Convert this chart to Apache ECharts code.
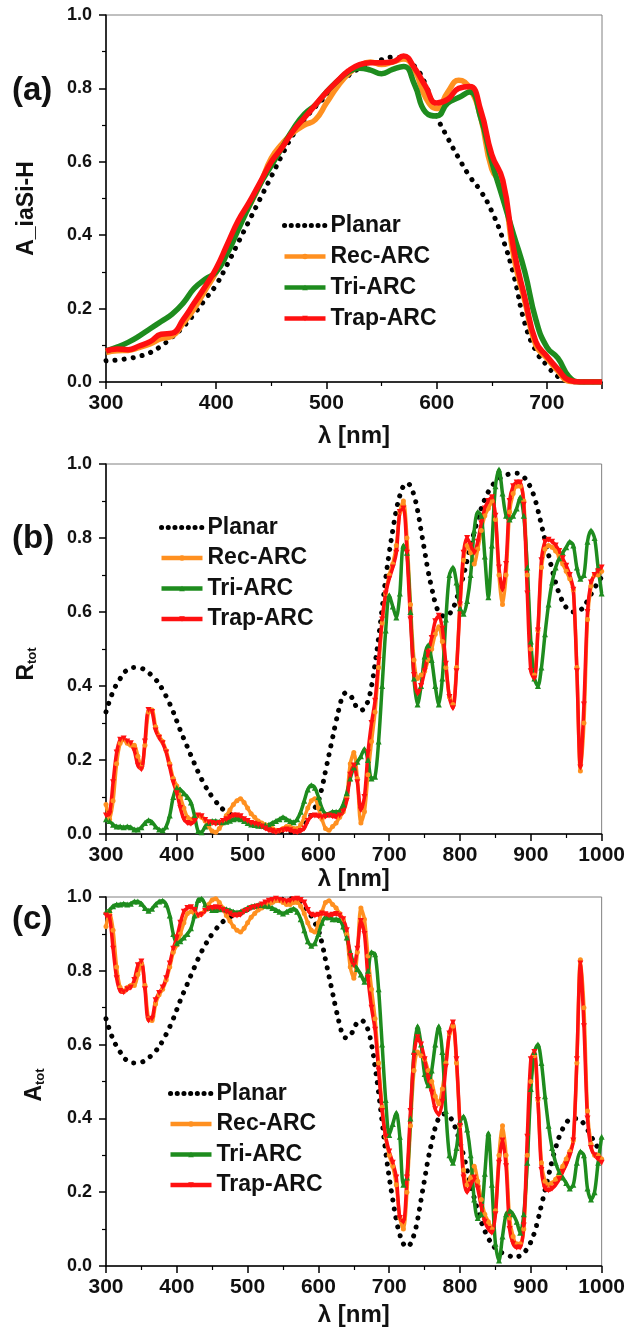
<!DOCTYPE html>
<html>
<head>
<meta charset="utf-8">
<script src="https://cdn.jsdelivr.net/npm/echarts@6/dist/echarts.min.js"></script>
<style>
html,body{margin:0;padding:0;background:#fff;}
#chart{width:628px;height:1329px;}
</style>
</head>
<body>
<div id="chart"></div>
<script>
// ---------- Panel (a): absorption in a-Si:H ----------
const wlA = [300,310,320,330,340,350,360,370,380,390,400,410,420,430,440,450,460,470,480,490,500,510,520,530,540,550,560,570,580,590,600,610,620,630,640,650,660,670,680,690,700,710,720,730,740,750];
const planarA = [.058,.060,.064,.070,.080,.098,.122,.150,.185,.225,.265,.320,.380,.440,.500,.560,.620,.675,.715,.750,.780,.810,.835,.855,.868,.878,.885,.882,.860,.810,.725,.665,.610,.560,.520,.465,.390,.290,.160,.085,.045,.015,.003,0,0,0];
const recA = [.080,.085,.086,.094,.104,.118,.125,.160,.200,.250,.300,.365,.430,.480,.540,.610,.650,.680,.700,.715,.760,.805,.840,.862,.872,.865,.872,.880,.850,.775,.745,.790,.822,.800,.720,.580,.530,.340,.220,.100,.065,.030,.002,0,0,0];
const triA = [.085,.095,.108,.125,.145,.165,.185,.215,.255,.280,.300,.350,.415,.480,.540,.590,.640,.690,.730,.755,.790,.820,.845,.855,.850,.840,.852,.860,.810,.735,.725,.760,.775,.790,.720,.600,.500,.400,.300,.170,.095,.065,.015,0,0,0];
const trapA = [.085,.090,.088,.098,.110,.130,.133,.170,.215,.260,.310,.375,.440,.490,.545,.600,.640,.685,.720,.755,.790,.820,.848,.865,.870,.870,.872,.888,.855,.805,.760,.770,.800,.805,.740,.620,.550,.360,.230,.110,.070,.035,.005,0,0,0];

// ---------- Panels (b) and (c): wavelength grid ----------
const wlBC = [300,305,310,315,320,325,330,335,340,345,350,355,360,365,370,375,380,385,390,395,
400,405,410,415,420,425,430,435,440,445,450,455,460,465,470,475,480,485,490,495,
500,505,510,515,520,525,530,535,540,545,550,555,560,565,570,575,580,585,590,595,
600,605,610,615,620,625,630,635,640,645,650,655,660,665,670,675,680,685,690,695,
700,705,710,715,720,725,730,735,740,745,750,755,760,765,770,775,780,785,790,795,
800,805,810,815,820,825,830,835,840,845,850,855,860,865,870,875,880,885,890,895,
900,905,910,915,920,925,930,935,940,945,950,955,960,965,970,975,980,985,990,995,1000];

// ---------- Panel (b): total reflection ----------
const planarB = [.33,.36,.385,.405,.42,.435,.443,.448,.45,.45,.448,.443,.436,.428,.418,.405,.39,.372,.352,.33,
.305,.28,.257,.235,.212,.19,.168,.148,.13,.115,.10,.088,.076,.067,.06,.054,.05,.046,.042,.038,
.034,.03,.027,.024,.021,.018,.015,.012,.01,.008,.006,.005,.005,.006,.01,.016,.025,.037,.052,.07,
.09,.125,.17,.215,.26,.305,.345,.375,.382,.375,.358,.34,.335,.34,.36,.40,.46,.53,.61,.69,
.76,.82,.875,.915,.94,.948,.94,.915,.875,.82,.765,.71,.665,.625,.60,.59,.588,.595,.61,.635,
.665,.70,.74,.78,.815,.85,.88,.905,.925,.94,.952,.96,.965,.97,.973,.975,.975,.972,.965,.952,
.935,.91,.875,.835,.795,.755,.715,.68,.65,.628,.612,.603,.60,.60,.605,.615,.63,.648,.665,.68,.695];
const recB = [.08,.04,.09,.19,.245,.255,.245,.24,.24,.21,.18,.24,.33,.335,.29,.265,.25,.225,.19,.15,
.13,.10,.07,.045,.04,.045,.05,.045,.035,.02,.008,.005,.015,.03,.05,.065,.08,.09,.095,.085,
.07,.055,.045,.035,.03,.025,.02,.015,.01,.01,.015,.02,.02,.015,.015,.025,.045,.07,.09,.095,
.07,.04,.015,.01,.02,.03,.045,.06,.10,.19,.22,.15,.03,.06,.16,.25,.33,.45,.57,.65,
.70,.73,.78,.87,.90,.80,.62,.47,.42,.43,.44,.47,.50,.54,.56,.52,.45,.37,.35,.45,
.62,.74,.78,.76,.73,.77,.82,.86,.88,.90,.85,.70,.62,.70,.87,.92,.94,.94,.90,.70,
.50,.43,.55,.72,.77,.78,.775,.765,.75,.73,.71,.69,.66,.45,.17,.30,.58,.67,.70,.70,.71];
const triB = [.04,.035,.025,.02,.02,.018,.02,.018,.012,.012,.018,.03,.037,.032,.02,.012,.01,.02,.05,.10,
.125,.12,.11,.10,.085,.05,.008,.005,.02,.03,.035,.035,.033,.032,.033,.036,.04,.042,.04,.035,
.03,.026,.024,.022,.022,.024,.025,.03,.035,.04,.045,.04,.035,.032,.04,.06,.09,.12,.132,.125,
.10,.07,.055,.055,.06,.06,.062,.08,.11,.15,.18,.195,.21,.23,.20,.15,.155,.25,.40,.55,
.645,.615,.585,.65,.78,.76,.60,.42,.35,.40,.48,.51,.47,.40,.35,.42,.58,.70,.72,.68,
.61,.595,.63,.70,.82,.87,.86,.75,.64,.78,.94,.985,.92,.86,.85,.86,.88,.91,.86,.72,
.52,.42,.40,.45,.54,.62,.68,.72,.745,.76,.775,.79,.78,.72,.69,.70,.79,.82,.80,.72,.65];
const trapB = [.05,.055,.14,.22,.255,.258,.25,.245,.225,.185,.175,.25,.335,.33,.28,.26,.245,.22,.18,.14,
.11,.07,.04,.03,.028,.035,.05,.048,.038,.032,.03,.028,.03,.035,.04,.045,.05,.05,.048,.04,
.035,.03,.028,.025,.02,.015,.01,.008,.005,.008,.01,.012,.01,.006,.005,.008,.015,.035,.048,.05,
.048,.045,.047,.05,.048,.046,.05,.06,.09,.16,.185,.14,.065,.10,.22,.30,.36,.47,.58,.65,
.69,.72,.76,.87,.88,.76,.58,.43,.38,.40,.44,.49,.53,.575,.59,.555,.46,.37,.34,.44,
.62,.76,.80,.78,.76,.79,.84,.88,.90,.91,.86,.72,.66,.73,.90,.94,.95,.95,.89,.65,
.44,.42,.55,.74,.79,.795,.79,.78,.765,.745,.725,.70,.66,.44,.18,.35,.60,.68,.70,.71,.72];

// ---------- Panel (c): total absorption ----------
const planarC = [.67,.64,.615,.595,.58,.565,.557,.552,.55,.55,.552,.557,.564,.572,.582,.595,.61,.628,.648,.67,
.695,.72,.743,.765,.788,.81,.832,.852,.87,.885,.90,.912,.924,.933,.94,.946,.95,.954,.958,.962,
.966,.97,.973,.976,.979,.982,.985,.988,.99,.992,.994,.995,.995,.994,.99,.984,.975,.963,.948,.93,
.91,.875,.83,.785,.74,.695,.655,.625,.618,.625,.642,.66,.665,.66,.64,.60,.54,.47,.39,.31,
.24,.18,.125,.085,.06,.052,.06,.085,.125,.18,.235,.29,.335,.375,.40,.41,.412,.405,.39,.365,
.335,.30,.26,.22,.185,.15,.12,.095,.075,.06,.048,.04,.035,.03,.027,.025,.025,.028,.035,.048,
.065,.09,.125,.165,.205,.245,.285,.32,.35,.372,.388,.397,.40,.40,.395,.385,.37,.352,.335,.32,.305];
const recC = [.92,.96,.91,.81,.755,.745,.755,.76,.76,.79,.82,.76,.67,.665,.71,.735,.75,.775,.81,.85,
.87,.90,.93,.955,.96,.955,.95,.955,.965,.98,.992,.995,.985,.97,.95,.935,.92,.91,.905,.915,
.93,.945,.955,.965,.97,.975,.98,.985,.99,.99,.985,.98,.98,.985,.985,.975,.955,.93,.91,.905,
.93,.96,.985,.99,.98,.97,.955,.94,.90,.81,.78,.85,.97,.94,.84,.75,.67,.55,.43,.35,
.30,.27,.22,.13,.10,.20,.38,.53,.58,.57,.56,.53,.50,.46,.44,.48,.55,.63,.65,.55,
.38,.26,.22,.24,.27,.23,.18,.14,.12,.10,.15,.30,.38,.30,.13,.08,.06,.06,.10,.30,
.50,.57,.45,.28,.23,.22,.225,.235,.25,.27,.29,.31,.34,.55,.83,.70,.42,.33,.30,.30,.29];
const triC = [.96,.965,.975,.98,.98,.982,.98,.982,.988,.988,.982,.97,.963,.968,.98,.988,.99,.98,.95,.90,
.875,.88,.89,.90,.915,.95,.992,.995,.98,.97,.965,.965,.967,.968,.967,.964,.96,.958,.96,.965,
.97,.974,.976,.978,.978,.976,.975,.97,.965,.96,.955,.96,.965,.968,.96,.94,.91,.88,.868,.875,
.90,.93,.945,.945,.94,.94,.938,.92,.89,.85,.82,.805,.79,.77,.80,.85,.845,.75,.60,.45,
.355,.385,.415,.35,.22,.24,.40,.58,.65,.60,.52,.49,.53,.60,.65,.58,.42,.30,.28,.32,
.39,.405,.37,.30,.18,.13,.14,.25,.36,.22,.06,.015,.08,.14,.15,.14,.12,.09,.14,.28,
.48,.58,.60,.55,.46,.38,.32,.28,.255,.24,.225,.21,.22,.28,.31,.30,.21,.18,.20,.28,.35];
const trapC = [.95,.945,.86,.78,.745,.742,.75,.755,.775,.815,.825,.75,.665,.67,.72,.74,.755,.78,.82,.86,
.89,.93,.96,.97,.972,.965,.95,.952,.962,.968,.97,.972,.97,.965,.96,.955,.95,.95,.952,.96,
.965,.97,.972,.975,.98,.985,.99,.992,.995,.992,.99,.988,.99,.994,.995,.992,.985,.965,.952,.95,
.952,.955,.953,.95,.952,.954,.95,.94,.91,.84,.815,.86,.935,.90,.78,.70,.64,.53,.42,.35,
.31,.28,.24,.13,.12,.24,.42,.57,.62,.60,.56,.51,.47,.425,.41,.445,.54,.63,.66,.56,
.38,.24,.20,.22,.24,.21,.16,.12,.10,.09,.14,.28,.34,.27,.10,.06,.05,.05,.11,.35,
.56,.58,.45,.26,.21,.205,.21,.22,.235,.255,.275,.30,.34,.56,.82,.65,.40,.32,.30,.29,.28];

const yTickLabels = ['0.0','0.2','0.4','0.6','0.8','1.0'];
const legendNames = ['Planar','Rec-ARC','Tri-ARC','Trap-ARC'];
const panelLabels = ['(a)','(b)','(c)'];

// ---------- chart ----------
const FONT = 'Liberation Sans, Arial, sans-serif';
const COL = {planar:'#000000', rec:'#ff9020', tri:'#1e8c1e', trap:'#ff1010'};
const downTri = 'path://M0,0 L10,0 L5,9 Z';

function pairs(xs, ys){ return xs.map((x,i)=>[x, ys[i]]); }

const grids = [
  {left:106, top:15, width:496, height:367},
  {left:106, top:464, width:496, height:370},
  {left:106, top:897, width:496, height:369}
];

function xAxisFor(i, max, nameGap){
  return {
    type:'value', gridIndex:i, min:300, max:max, interval:100,
    name:'λ [nm]', nameLocation:'middle', nameGap:nameGap,
    nameTextStyle:{fontFamily:FONT, fontWeight:'bold', fontSize:24, color:'#111'},
    axisLine:{lineStyle:{color:'#000', width:1.5}},
    axisTick:{show:true, inside:false, length:7, lineStyle:{color:'#000', width:1.5}},
    minorTick:{show:true, splitNumber:2, length:4, lineStyle:{color:'#000', width:1.2}},
    splitLine:{show:false}, minorSplitLine:{show:false},
    axisLabel:{fontFamily:FONT, fontWeight:'bold', fontSize:21, color:'#111', margin:11,
      formatter:v=> (v%100===0 ? String(v) : '')}
  };
}
function yAxisFor(i, name, gap, pad, rich){
  return {
    type:'value', gridIndex:i, min:0, max:1, interval:0.2,
    name:name, nameLocation:'middle', nameGap:gap, nameRotate:90,
    nameTextStyle:Object.assign({fontFamily:FONT, fontWeight:'bold', fontSize:23, color:'#111', padding:[0,pad,0,0]}, rich?{rich:rich}:{}),
    axisLine:{lineStyle:{color:'#000', width:1.5}},
    axisTick:{show:true, inside:false, length:7, lineStyle:{color:'#000', width:1.5}},
    minorTick:{show:true, splitNumber:2, length:4, lineStyle:{color:'#000', width:1.2}},
    splitLine:{show:false}, minorSplitLine:{show:false},
    axisLabel:{fontFamily:FONT, fontWeight:'bold', fontSize:18, color:'#111', margin:14,
      formatter:v=> yTickLabels[Math.round(v*5)] || ''}
  };
}

function panelSeries(i, wl, pl, rc, tr, tp, withSym, lw, smooth){
  const mk = (name, ys, color, symbol, size) => ({
    name:name, type:'line', xAxisIndex:i, yAxisIndex:i, data:pairs(wl, ys),
    smooth:smooth, symbol:symbol, symbolSize:size, showSymbol:withSym,
    itemStyle:{color:color}, lineStyle:{color:color, width:lw}, animation:false, z:3
  });
  return [
    {name:'Planar', type:'line', xAxisIndex:i, yAxisIndex:i, data:pairs(wl, pl), smooth:true,
     symbol:'none', itemStyle:{color:'#000'},
     lineStyle:{color:'#000', width:5, type:[0.1, 9], cap:'round'}, animation:false, z:2},
    mk('Rec-ARC', rc, COL.rec, 'circle', 5),
    mk('Tri-ARC', tr, COL.tri, 'triangle', 6),
    mk('Trap-ARC', tp, COL.trap, downTri, 6)
  ];
}

function legendFor(left, top, gap){
  return {
    data:[{name:'Planar', itemStyle:{opacity:0, color:'rgba(0,0,0,0)', borderWidth:0},
           lineStyle:{width:5, type:[0.1, 6.6], cap:'round', color:'#000'}},
          'Rec-ARC','Tri-ARC','Trap-ARC'],
    orient:'vertical', left:left, top:top,
    itemWidth:41, itemHeight:7, itemGap:gap, selectedMode:false,
    lineStyle:{width:4.5},
    textStyle:{fontFamily:FONT, fontWeight:'bold', fontSize:23, color:'#111', lineHeight:23}
  };
}

const richSub = {
  m:{fontFamily:FONT, fontWeight:'bold', fontSize:23, color:'#111'},
  s:{fontFamily:FONT, fontWeight:'bold', fontSize:13, color:'#111', verticalAlign:'bottom', padding:[12,0,0,0]}
};

const option = {
  backgroundColor:'#fff',
  animation:false,
  grid:grids.map(g=>Object.assign({show:true, borderColor:'#808080', borderWidth:1, backgroundColor:'transparent'}, g)),
  xAxis:[xAxisFor(0,750,42), xAxisFor(1,1000,33), xAxisFor(2,1000,37)],
  yAxis:[yAxisFor(0,'A_iaSi-H',68,20), yAxisFor(1,'{m|R}{s|tot}',67,30, richSub), yAxisFor(2,'{m|A}{s|tot}',59,7, richSub)],
  legend:[legendFor(277,209,8), legendFor(154,511,7.5), legendFor(163,1077,7.5)],
  graphic:[
    {type:'text', left:12, top:74, style:{text:panelLabels[0], fontFamily:FONT, fontWeight:'bold', fontSize:33, fill:'#111'}},
    {type:'text', left:12, top:522, style:{text:panelLabels[1], fontFamily:FONT, fontWeight:'bold', fontSize:33, fill:'#111'}},
    {type:'text', left:12, top:903, style:{text:panelLabels[2], fontFamily:FONT, fontWeight:'bold', fontSize:33, fill:'#111'}}
  ],
  series:[].concat(
    panelSeries(0, wlA, planarA, recA, triA, trapA, false, 5.5, true),
    panelSeries(1, wlBC, planarB, recB, triB, trapB, true, 3.5, 0.3),
    panelSeries(2, wlBC, planarC, recC, triC, trapC, true, 3.5, 0.3)
  )
};

const chart = echarts.init(document.getElementById('chart'), null, {renderer:'canvas'});
chart.setOption(option);
</script>
</body>
</html>
